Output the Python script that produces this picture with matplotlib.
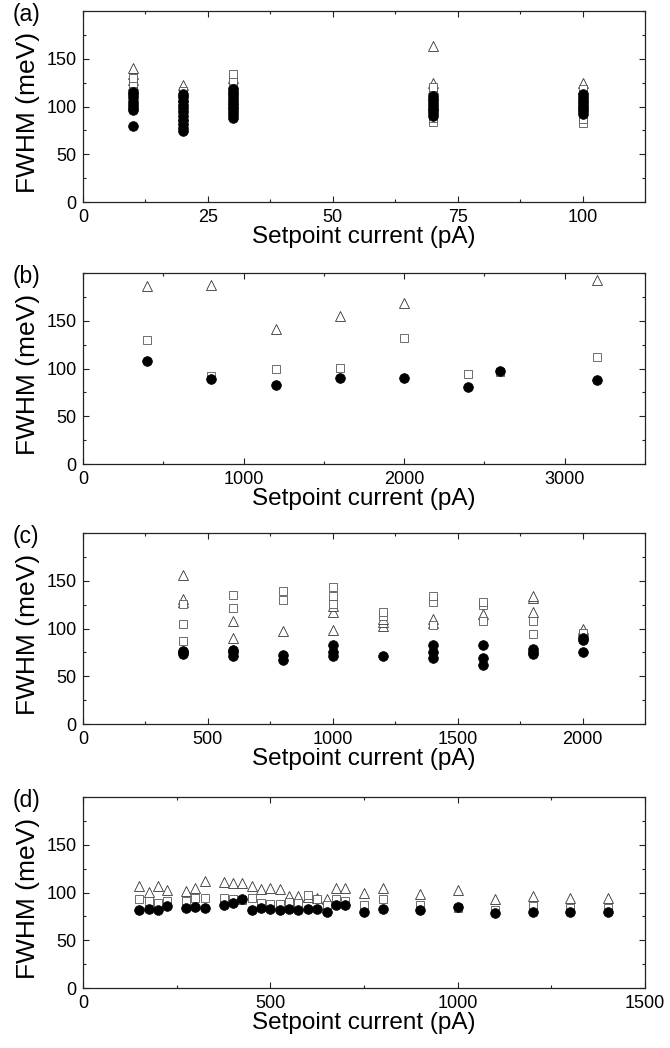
import numpy as np
import matplotlib
matplotlib.use('Agg')
import matplotlib.pyplot as plt
from matplotlib.ticker import MultipleLocator

font = 'Liberation Sans'

# ---- data (FWHM in meV vs setpoint current in pA) ----
# panel (a): several spectra per setpoint
a_setpoints = [10, 20, 30, 70, 100]
a_circle = [[80, 96, 99, 102, 105, 110, 113, 115],
            [74, 78, 82, 86, 90, 94, 98, 102, 106, 110, 113],
            [88, 91, 94, 97, 100, 103, 106, 109, 112, 115, 118],
            [90, 93, 96, 99, 102, 105, 108, 111],
            [92, 95, 98, 101, 104, 107, 110, 113]]
a_square = [[98, 104, 120, 125, 130],
            [88, 97, 104, 110, 114, 116],
            [100, 112, 120, 124, 128, 134],
            [84, 88, 96, 104, 112, 118, 120],
            [83, 87, 96, 104, 112, 118]]
a_triangle = [[112, 122, 128, 134, 140],
              [90, 101, 110, 116, 123],
              [108, 118, 125, 130],
              [102, 112, 118, 125, 163],
              [102, 110, 118, 125]]

# panel (b)
b_setpoints = [400, 800, 1200, 1600, 2000, 2400, 2600, 3200]
b_circle = [108, 89, 83, 90, 90, 81, 97, 88]
b_square = [130, 92, 100, 101, 132, 94, 96, 112]
b_triangle = [186, 187, 141, 155, 168, np.nan, np.nan, 193]

# panel (c)
c_setpoints = [400, 600, 800, 1000, 1200, 1400, 1600, 1800, 2000]
c_circle = [[73, 75, 77], [71, 75, 78], [67, 72], [71, 76, 83], [71],
            [69, 76, 83], [62, 69, 83], [73, 76, 79], [76, 88, 90]]
c_square = [[87, 105, 126], [121, 135], [130, 139], [126, 134, 143], [113, 117],
            [104, 128, 134], [108, 125, 128], [94, 108], [91, 95]]
c_triangle = [[128, 131, 156], [90, 108], [97], [99, 117, 124], [103, 107, 110],
              [106, 110], [115], [117, 132, 134], [97, 100]]

# panel (d)
d_setpoints = [150, 175, 200, 225, 275, 300, 325, 375, 400, 425, 450, 475, 500, 525,
               550, 575, 600, 625, 650, 675, 700, 750, 800, 900, 1000, 1100, 1200,
               1300, 1400]
d_circle = [82, 83, 82, 86, 84, 85, 84, 87, 89, 93, 82, 84, 83, 82, 83, 82, 83, 83,
            80, 87, 87, 80, 83, 82, 85, 79, 80, 80, 80]
d_square = [93, 91, 89, 91, 91, 94, 94, 94, 93, 92, 94, 89, 88, 88, 90, 89, 97, 93,
            87, 93, 91, 87, 93, 87, 84, 82, 86, 84, 84]
d_triangle = [107, 101, 107, 103, 102, 105, 112, 111, 110, 110, 107, 104, 105, 104,
              96, 96, 95, 94, 93, 105, 105, 100, 105, 99, 103, 93, 96, 94, 94]


def flatten(xs, groups):
    x, y = [], []
    for xv, g in zip(xs, groups):
        x += [xv] * len(g)
        y += list(g)
    return x, y


panels = [
    ('(a)', flatten(a_setpoints, a_circle), flatten(a_setpoints, a_square),
     flatten(a_setpoints, a_triangle), 112.5, 25, 12.5),
    ('(b)', (b_setpoints, b_circle), (b_setpoints, b_square),
     (b_setpoints, b_triangle), 3500, 1000, 500),
    ('(c)', flatten(c_setpoints, c_circle), flatten(c_setpoints, c_square),
     flatten(c_setpoints, c_triangle), 2250, 500, 250),
    ('(d)', (d_setpoints, d_circle), (d_setpoints, d_square),
     (d_setpoints, d_triangle), 1500, 500, 250),
]

W, H = 670, 1048
fig = plt.figure(figsize=(W / 100, H / 100), dpi=100)
bottoms = [202.3, 464.3, 724.3, 988.3]

for (tag, circ, sq, tri, xmax, xmaj, xmin), yb in zip(panels, bottoms):
    ax = fig.add_axes([83 / W, 1 - yb / H, 562 / W, 191.5 / H])
    ax.plot(tri[0], tri[1], linestyle='none', marker='^', ms=7.5, mfc='white',
            mec='#333333', mew=0.6)
    ax.plot(sq[0], sq[1], linestyle='none', marker='s', ms=5.5, mfc='white',
            mec='#555555', mew=0.6)
    ax.plot(circ[0], circ[1], linestyle='none', marker='o', ms=7, mfc='black',
            mec='black', mew=0.5)

    ax.set_xlim(0, xmax)
    ax.set_ylim(0, 200)
    ax.xaxis.set_major_locator(MultipleLocator(xmaj))
    ax.xaxis.set_minor_locator(MultipleLocator(xmin))
    ax.set_yticks([0, 50, 100, 150])
    ax.yaxis.set_minor_locator(MultipleLocator(25))
    ax.tick_params(which='both', direction='in', top=True, right=True,
                   width=0.8, color='#222222')
    ax.tick_params(which='major', length=4, pad=4.5)
    ax.tick_params(which='minor', length=2)
    for lab in ax.get_xticklabels() + ax.get_yticklabels():
        lab.set_fontfamily(font)
        lab.set_fontsize(13)
    for s in ax.spines.values():
        s.set_linewidth(0.9)
        s.set_color('#222222')

    ax.set_xlabel('Setpoint current (pA)', fontfamily=font, fontsize=17.5)
    ax.xaxis.set_label_coords(0.5, -0.125)
    ax.set_ylabel('FWHM (meV)', fontfamily=font, fontsize=19)
    ax.yaxis.set_label_coords(-0.076, 0.47)
    ax.annotate(tag, xy=(0, 1), xycoords='axes fraction', xytext=(-70, -4),
                textcoords='offset pixels', ha='left', va='center',
                fontfamily=font, fontsize=16.5)

fig.savefig('out.png', dpi=100)
